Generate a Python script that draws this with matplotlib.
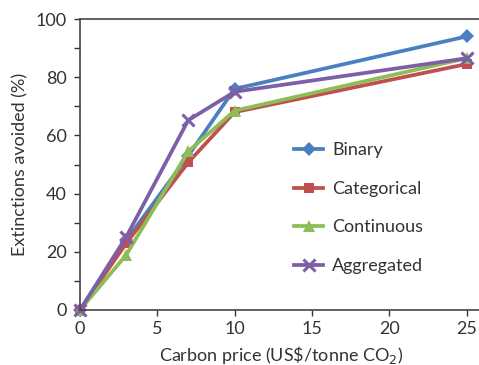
import matplotlib
matplotlib.use("Agg")
import matplotlib.pyplot as plt
from matplotlib.ticker import MultipleLocator

plt.rcParams['font.family'] = ['Lato', 'DejaVu Sans']

price = [0, 3, 7, 10, 25]
binary = [0, 24, 53, 76, 94]
categorical = [0, 23, 50.7, 68, 84.5]
continuous = [0, 19, 54.5, 68.5, 86.5]
aggregated = [0, 25.2, 65.2, 75, 86.5]
labels = ['Binary', 'Categorical', 'Continuous', 'Aggregated']

fig = plt.figure(figsize=(4.79, 3.65), dpi=100)
ax = fig.add_axes([80/479, 1-310/365, 402/479, 291/365])

styles = [
    (binary, '#4a7fc1', 'D', 7),
    (categorical, '#c0504d', 's', 7),
    (continuous, '#8cbd57', '^', 8),
    (aggregated, '#7d5fa8', 'x', 8),
]
for (vals, c, m, ms), lab in zip(styles, labels):
    kw = dict(markeredgewidth=2.2) if m == 'x' else dict(markeredgewidth=0)
    ax.plot(price, vals, color=c, lw=2.7, marker=m, ms=ms, label=lab, clip_on=False, **kw)

ax.set_xlim(0, 26)
ax.set_ylim(0, 100)
ax.xaxis.set_major_locator(MultipleLocator(5))
ax.yaxis.set_major_locator(MultipleLocator(20))
ax.yaxis.set_minor_locator(MultipleLocator(10))
ax.tick_params(axis='y', direction='out', length=4, width=1, labelsize=13, colors='#333333', pad=5.5)
ax.tick_params(axis='x', direction='out', length=4, width=1, labelsize=13, colors='#333333', pad=4)
ax.tick_params(which='minor', direction='out', length=4, width=1, colors='#333333')
ax.spines['right'].set_visible(False)
for s in ['left', 'bottom', 'top']:
    ax.spines[s].set_color('#444444')
    ax.spines[s].set_linewidth(1.2)

ax.set_xlabel(r'Carbon price (US\$/tonne CO$_2$)', fontsize=13, color='#333333', labelpad=5)
ax.set_ylabel('Extinctions avoided (%)', fontsize=13, color='#333333', labelpad=5)

leg = ax.legend(loc='upper left', bbox_to_anchor=(198/402, 184/291), frameon=False,
                fontsize=13, handlelength=1.6, labelspacing=1.25, handletextpad=0.5)
for t in leg.get_texts():
    t.set_color('#333333')

fig.savefig('out.png', dpi=100)
